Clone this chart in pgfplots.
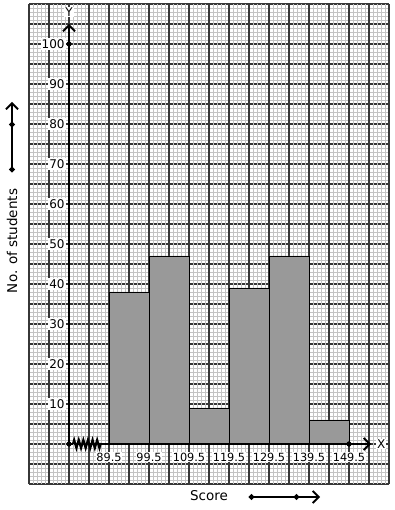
\documentclass[border=0pt]{standalone}
\usepackage{fontspec}
\setmainfont{DejaVu Sans}
\usepackage{pgfplots}
\pgfplotsset{compat=1.18}
\usetikzlibrary{arrows.meta,decorations.pathmorphing}
\definecolor{barfill}{RGB}{153,153,153}
\definecolor{minorg}{RGB}{195,195,195}
\definecolor{majorg}{RGB}{55,55,55}
\pgfplotsset{gridbase/.style={at={(0,0)},anchor=south west, scale only axis, width=360pt, height=480pt,
 xmin=69.5,xmax=159.5,ymin=-10,ymax=110,
 xtick={69.5,74.5,...,159.5}, ytick={-10,-5,...,110}, minor tick num=4,
 xticklabels={}, yticklabels={}, major tick length=0pt, minor tick length=0pt,
 tick style={draw=none}, axis line style={draw=none},
 minor grid style={draw=minorg, line width=0.9pt},
 major grid style={draw=majorg, line width=1.1pt}}}
\begin{document}
\begin{tikzpicture}[x=1pt,y=1pt]
\useasboundingbox (-29,-26) rectangle (365,484);
% horizontal major lines (under the minor lines)
\begin{axis}[gridbase, ymajorgrids=true]
\end{axis}
% minor grid
\begin{axis}[gridbase, xminorgrids=true, yminorgrids=true]
\end{axis}
% vertical major lines and content
\begin{axis}[gridbase, xmajorgrids=true, clip=false]
\addplot[ybar interval, fill=barfill, draw=black, line width=0.9pt] coordinates {(89.5,38)(99.5,47)(109.5,9)(119.5,39)(129.5,47)(139.5,6)(149.5,6)};
\draw[line width=2.6pt, -{Straight Barb[length=6pt,width=12pt,line width=1.8pt]}] (axis cs:79.5,0) -- (axis cs:79.5,105);
\draw[line width=2.6pt] (axis cs:79.5,0) -- (axis cs:80.5,0);
\draw[line width=2.2pt, decorate, decoration={zigzag, segment length=4.6pt, amplitude=4pt}] (axis cs:80.5,0) -- (axis cs:87.5,0);
\draw[line width=2.6pt, -{Straight Barb[length=6pt,width=12pt,line width=1.8pt]}] (axis cs:87.5,0) -- (axis cs:155,0);
\addplot[only marks, mark=*, mark size=2.4pt, black] coordinates {(79.5,100)(79.5,0)(149.5,0)};
\node[fill=white, inner sep=1pt, font=\fontsize{12}{12}\selectfont] at (axis cs:79.5,108) {Y};
\node[fill=white, inner sep=1pt, anchor=west, font=\fontsize{12}{12}\selectfont] at (axis cs:156.2,0) {X};
\pgfplotsinvokeforeach{10,20,30,40,50,60,70,80,90,100}{
 \node[anchor=east, fill=white, inner sep=1pt, font=\fontsize{12}{12}\selectfont] at (axis cs:78.7,#1) {#1};
}
\pgfplotsinvokeforeach{89.5,99.5,109.5,119.5,129.5,139.5,149.5}{
 \node[fill=white, inner sep=0.4pt, font=\fontsize{11.3}{11.3}\selectfont] at (axis cs:#1,-3.25) {#1};
}
\end{axis}
\node[rotate=90, font=\fontsize{13.5}{13.5}\selectfont] at (-17,243) {No. of students};
\draw[line width=2.6pt, {Circle[length=5pt]}-{Circle[length=5pt]}] (-17,312) -- (-17,362);
\draw[line width=2.6pt, -{Straight Barb[length=6pt,width=12pt,line width=1.8pt]}] (-17,362) -- (-17,382);
\node[font=\fontsize{13.5}{13.5}\selectfont] at (180,-12) {Score};
\draw[line width=2.6pt, {Circle[length=5pt]}-{Circle[length=5pt]}] (220,-13) -- (270,-13);
\draw[line width=2.6pt, -{Straight Barb[length=6pt,width=12pt,line width=1.8pt]}] (270,-13) -- (291,-13);
\end{tikzpicture}
\end{document}
